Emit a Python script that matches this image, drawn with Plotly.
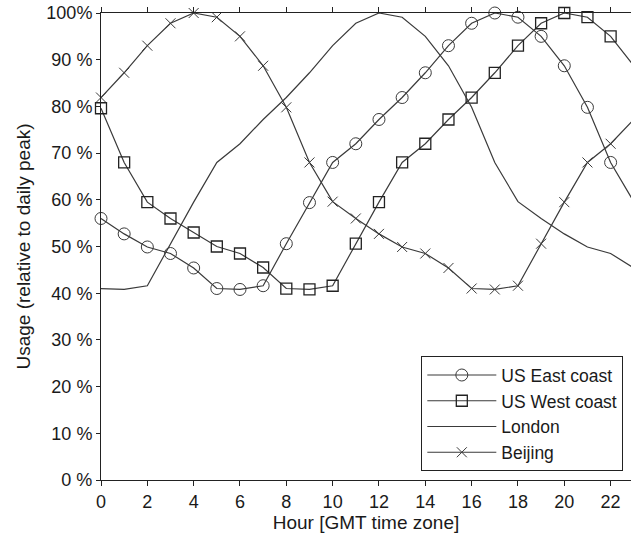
import plotly.graph_objects as go

hours = list(range(24))
us_east = [56, 52.7, 49.9, 48.5, 45.4, 41, 40.8, 41.6, 50.6, 59.4, 68, 72, 77.2, 81.9, 87.2, 93, 97.8, 100, 99.1, 95, 88.7, 79.8, 68, 59.6]
us_west = [79.6, 68, 59.5, 56, 53, 50, 48.5, 45.5, 41, 40.8, 41.6, 50.6, 59.5, 68, 72, 77.2, 81.9, 87.2, 93, 97.8, 100, 99.1, 95, 88.7]
london = [41, 40.8, 41.6, 50.6, 59.5, 68, 72, 77.2, 81.9, 87.2, 93, 97.8, 100, 99.1, 95, 88.7, 79.8, 68, 59.6, 56, 52.7, 49.9, 48.5, 45.4]
beijing = [81.9, 87.2, 93, 97.8, 100, 99.1, 95, 88.7, 79.8, 68, 59.6, 56, 52.7, 49.9, 48.5, 45.4, 41, 40.8, 41.6, 50.6, 59.5, 68, 72, 77.2]

y_ticks = [0, 10, 20, 30, 40, 50, 60, 70, 80, 90, 100]
y_ticktext = ["0 %", "10 %", "20 %", "30 %", "40 %", "50 %", "60 %", "70 %", "80 %", "90 %", "100%"]
x_ticks = list(range(0, 23, 2))

line_col = "#3a3a3a"
fig = go.Figure()
series = [
    ("US East coast", us_east, "lines+markers", dict(symbol="circle-open", size=12, color=line_col, line=dict(width=1, color=line_col))),
    ("US West coast", us_west, "lines+markers", dict(symbol="square-open", size=11, color="#222", line=dict(width=1.3, color="#222"))),
    ("London", london, "lines", None),
    ("Beijing", beijing, "lines+markers", dict(symbol="x-thin-open", size=10, color=line_col, line=dict(width=1, color=line_col))),
]
for name, vals, mode, mk in series:
    kw = dict(x=hours, y=vals, mode=mode, name=name,
              line=dict(color=line_col, width=1.2), cliponaxis=False)
    if mk:
        kw["marker"] = mk
    fig.add_trace(go.Scatter(**kw))

fig.update_layout(
    width=631, height=540,
    margin=dict(l=101, r=0, t=13, b=60, autoexpand=False),
    paper_bgcolor="white", plot_bgcolor="white",
    font=dict(family="Liberation Sans, Arial, sans-serif", size=18, color="#1a1a1a"),
    showlegend=True,
    legend=dict(x=0.9855, xanchor="right", y=0.019, yanchor="bottom",
                bordercolor="#222", borderwidth=1, bgcolor="white",
                font=dict(size=17.5), itemwidth=69),
    xaxis=dict(range=[0, 22.88], tickvals=x_ticks, showgrid=False, zeroline=False,
               showline=True, linecolor="#222", linewidth=1, mirror="ticks",
               ticks="outside", ticklen=5, tickcolor="#222", automargin=False,
               tickfont=dict(size=18),
               title=dict(text="Hour [GMT time zone]", standoff=2, font=dict(size=19))),
    yaxis=dict(range=[0, 100], tickvals=y_ticks, ticktext=y_ticktext, showgrid=False,
               zeroline=False, showline=True, linecolor="#222", linewidth=1,
               ticks="outside", ticklen=4, tickcolor="#222", automargin=False,
               tickfont=dict(size=18),
               title=dict(text="Usage (relative to daily peak)", standoff=10, font=dict(size=19))),
)
fig.write_html("out.html", config={"displayModeBar": False},
               post_script="document.body.style.margin='0';document.body.style.overflow='hidden';")
